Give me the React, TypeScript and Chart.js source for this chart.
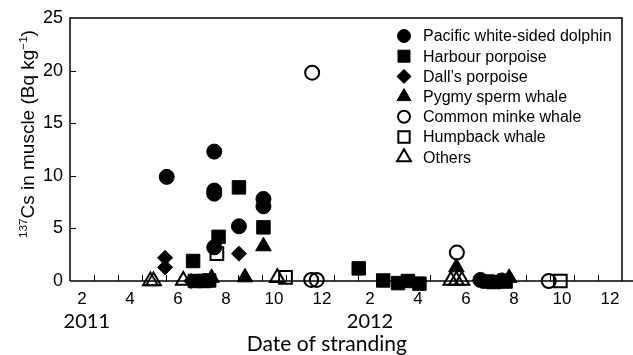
import React, { useEffect, useRef } from 'react';
import { Chart, registerables } from 'chart.js';
import { drawPoint } from 'chart.js/helpers';

Chart.register(...registerables);

// Month index: Jan 2011 = 1 ... Dec 2012 = 24
const seriesNames = [
  'Pacific white-sided dolphin',
  'Harbour porpoise',
  "Dall\u2019s porpoise",
  'Pygmy sperm whale',
  'Common minke whale',
  'Humpback whale',
  'Others',
];

const pwsdX = [5.53, 7.51, 7.51, 7.51, 7.51, 8.54, 9.56, 9.56, 18.6, 19.5];
const pwsdY = [9.9, 12.3, 8.6, 8.3, 3.2, 5.2, 7.8, 7.1, 0.1, 0.05];

const harbourX = [6.63, 6.7, 7.1, 7.3, 7.69, 8.54, 9.56, 13.53, 14.55, 15.17, 15.58, 16.06, 18.9, 19.15, 19.65];
const harbourY = [1.9, 0, 0, 0.05, 4.2, 8.9, 5.1, 1.2, 0.05, -0.2, 0, -0.25, -0.05, -0.1, -0.05];

const dallsX = [5.46, 5.46, 6.55, 8.54, 19.35];
const dallsY = [2.2, 1.3, 0, 2.6, 0];

const pygmyX = [7.4, 8.79, 9.56, 17.6, 19.8];
const pygmyY = [0.3, 0.35, 3.3, 1.3, 0.3];

const minkeX = [11.59, 11.55, 11.78, 17.62, 21.45];
const minkeY = [19.8, 0.1, 0.1, 2.7, 0];

const humpbackX = [7.62, 10.48, 21.93];
const humpbackY = [2.6, 0.35, 0];

const othersX = [4.85, 4.98, 6.22, 10.14, 17.37, 17.6, 17.83];
const othersY = [0, 0, 0.05, 0.3, 0.05, 0.05, 0.05];

const xTickMonths = [2, 4, 6, 8, 10, 12, 14, 16, 18, 20, 22, 24];
const xTickLabels = ['2', '4', '6', '8', '10', '12', '2', '4', '6', '8', '10', '12'];
const yTickValues = [0, 5, 10, 15, 20, 25];
const yearLabels = ['2011', '2012'];
const yearMonths = [2.2, 14.0];
const xTitle = 'Date of stranding';
const yTitleParts = [
  { t: '137', sup: true },
  { t: 'Cs in muscle (Bq kg', sup: false },
  { t: '\u22121', sup: true },
  { t: ')', sup: false },
];

const styles = [
  { pointStyle: 'circle', filled: true, r: 7.5, lr: 6.5 },
  { pointStyle: 'rect', filled: true, r: 9.5, lr: 8.5 },
  { pointStyle: 'rectRot', filled: true, r: 7.5, lr: 7 },
  { pointStyle: 'triangle', filled: true, r: 9, lr: 8 },
  { pointStyle: 'circle', filled: false, r: 7, lr: 6 },
  { pointStyle: 'rect', filled: false, r: 9, lr: 8 },
  { pointStyle: 'triangle', filled: false, r: 8.5, lr: 8 },
];

const seriesX = [pwsdX, harbourX, dallsX, pygmyX, minkeX, humpbackX, othersX];
const seriesY = [pwsdY, harbourY, dallsY, pygmyY, minkeY, humpbackY, othersY];

const TICK_FONT = "'Liberation Sans', Arial, sans-serif";
const TITLE_FONT = "Lato, 'Open Sans', sans-serif";

const framePlugin = {
  id: 'frame',
  beforeDatasetsDraw(chart: any) {
    const { ctx, chartArea, scales } = chart;
    const { left, top, right } = chartArea;
    const y0 = scales.y.getPixelForValue(0);
    ctx.save();
    ctx.strokeStyle = '#000';
    ctx.lineWidth = 1.5;
    ctx.beginPath();
    ctx.moveTo(left, y0);
    ctx.lineTo(left, top);
    ctx.lineTo(right, top);
    ctx.lineTo(right, y0);
    ctx.moveTo(left, y0);
    ctx.lineTo(chart.width, y0);
    ctx.stroke();
    ctx.lineWidth = 1;
    ctx.beginPath();
    for (let m = 2.5; m < 24.5; m += 1) {
      const x = Math.round(scales.x.getPixelForValue(m)) + 0.5;
      ctx.moveTo(x, y0);
      ctx.lineTo(x, y0 - 6);
    }
    for (const v of yTickValues) {
      if (v === 0 || v === 25) continue;
      const y = Math.round(scales.y.getPixelForValue(v)) + 0.5;
      ctx.moveTo(left, y);
      ctx.lineTo(left + 6, y);
    }
    ctx.stroke();
    ctx.restore();
  },
  afterDraw(chart: any) {
    const { ctx, chartArea, scales } = chart;
    ctx.save();
    ctx.fillStyle = '#000';
    // year labels
    ctx.font = `20px ${TITLE_FONT}`;
    ctx.textAlign = 'center';
    ctx.textBaseline = 'middle';
    yearLabels.forEach((lab, i) => {
      ctx.fillText(lab, scales.x.getPixelForValue(yearMonths[i]), 322);
    });
    // x title
    ctx.font = `21px ${TITLE_FONT}`;
    ctx.fillText(xTitle, scales.x.getPixelForValue(12.2), 344);

    // y title, rotated with superscripts, fitted to the reference length
    let total = 0;
    for (const p of yTitleParts) {
      ctx.font = `${p.sup ? 11 : 18}px ${TICK_FONT}`;
      total += ctx.measureText(p.t).width;
    }
    const k = 208 / total;
    const bigSize = 18 * k;
    const smallSize = 11 * k;
    total = 0;
    for (const p of yTitleParts) {
      ctx.font = `${p.sup ? smallSize : bigSize}px ${TICK_FONT}`;
      total += ctx.measureText(p.t).width;
    }
    ctx.translate(34, 134);
    ctx.rotate(-Math.PI / 2);
    ctx.textAlign = 'left';
    ctx.textBaseline = 'alphabetic';
    let pos = -total / 2;
    for (const p of yTitleParts) {
      ctx.font = `${p.sup ? smallSize : bigSize}px ${TICK_FONT}`;
      ctx.fillText(p.t, pos, p.sup ? -7 : 0);
      pos += ctx.measureText(p.t).width;
    }
    ctx.restore();

    // legend
    ctx.save();
    const mx = chartArea.right - 218;
    const tx = chartArea.right - 199;
    ctx.font = `16px ${TICK_FONT}`;
    ctx.textAlign = 'left';
    ctx.textBaseline = 'middle';
    seriesNames.forEach((name, i) => {
      const s = styles[i];
      const y = chartArea.top + 18 + i * 20.2;
      ctx.fillStyle = s.filled ? '#000' : 'rgba(0,0,0,0)';
      ctx.strokeStyle = '#000';
      ctx.lineWidth = s.filled ? 1 : 2;
      drawPoint(ctx, { pointStyle: s.pointStyle, radius: s.lr, borderWidth: s.filled ? 1 : 2, rotation: 0 } as any, mx, y);
      ctx.fillStyle = '#000';
      ctx.fillText(name, tx, y + 1);
    });
    ctx.restore();
  },
};

export default function App() {
  const ref = useRef<HTMLCanvasElement>(null);
  useEffect(() => {
    document.body.style.margin = '0';
    const canvas = ref.current!;
    const datasets = seriesNames.map((name, i) => ({
      label: name,
      data: seriesX[i].map((x, j) => ({ x, y: seriesY[i][j] })),
      pointStyle: styles[i].pointStyle,
      pointRadius: styles[i].r,
      pointHoverRadius: styles[i].r,
      pointBackgroundColor: styles[i].filled ? '#000' : 'rgba(0,0,0,0)',
      pointBorderColor: '#000',
      pointBorderWidth: styles[i].filled ? 1 : 2,
      showLine: false,
      clip: false as any,
    }));
    const chart = new Chart(canvas, {
      type: 'scatter',
      data: { datasets },
      plugins: [framePlugin],
      options: {
        animation: false,
        responsive: false,
        devicePixelRatio: 1,
        layout: { padding: { top: 18, right: 2, left: 0, bottom: 0 } },
        plugins: { legend: { display: false }, tooltip: { enabled: false } },
        events: [],
        scales: {
          x: {
            type: 'linear',
            min: 1.5,
            max: 24.5,
            afterBuildTicks: (scale: any) => {
              scale.ticks = xTickMonths.map((v) => ({ value: v }));
            },
            afterFit: (scale: any) => {
              scale.height = 74;
              scale.paddingLeft = 0;
              scale.paddingRight = 0;
            },
            ticks: {
              autoSkip: false,
              maxRotation: 0,
              padding: 8,
              color: '#000',
              font: { family: TICK_FONT, size: 17 },
              callback: (v: any) => {
                const i = xTickMonths.indexOf(Number(v));
                return i >= 0 ? xTickLabels[i] : '';
              },
            },
            grid: { display: false, drawTicks: false },
            border: { display: false },
          },
          y: {
            min: 0,
            max: 25,
            afterBuildTicks: (scale: any) => {
              scale.ticks = yTickValues.map((v) => ({ value: v }));
            },
            afterFit: (scale: any) => {
              scale.width = 70;
              scale.paddingTop = 0;
              scale.paddingBottom = 0;
            },
            ticks: {
              padding: 7,
              color: '#000',
              font: { family: TICK_FONT, size: 18 },
            },
            grid: { display: false, drawTicks: false },
            border: { display: false },
          },
        },
      },
    });
    return () => chart.destroy();
  }, []);
  return (
    <div style={{ width: 633, height: 355 }}>
      <canvas ref={ref} width={633} height={355} style={{ display: 'block' }} />
    </div>
  );
}
